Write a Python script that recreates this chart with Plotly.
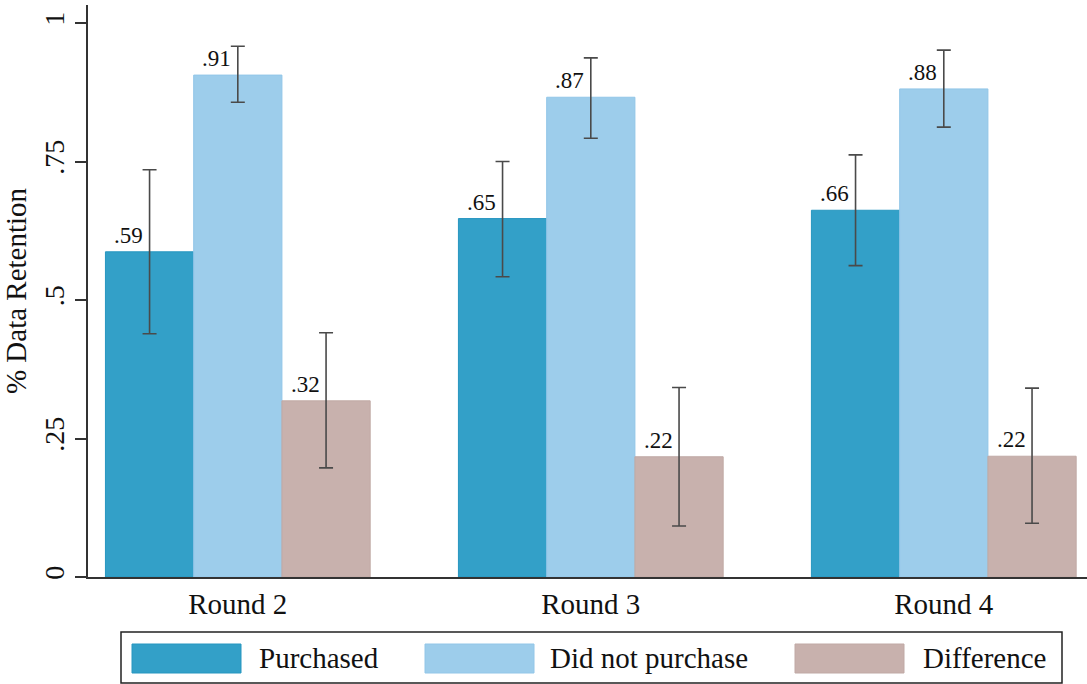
import plotly.graph_objects as go

rounds = ["Round 2", "Round 3", "Round 4"]
series_names = ["Purchased", "Did not purchase", "Difference"]
purchased = [0.587, 0.647, 0.662]
purchased_lo = [0.439, 0.542, 0.562]
purchased_hi = [0.735, 0.750, 0.762]
not_purchased = [0.906, 0.866, 0.881]
not_purchased_lo = [0.857, 0.792, 0.812]
not_purchased_hi = [0.958, 0.937, 0.951]
difference = [0.318, 0.217, 0.218]
difference_lo = [0.197, 0.092, 0.097]
difference_hi = [0.441, 0.342, 0.341]
y_tickvals = [0, 0.25, 0.5, 0.75, 1]
y_ticktext = ["0", ".25", ".5", ".75", "1"]

colors = ["#33A0C8", "#9DCDEB", "#C8B1AD"]
edges = ["#2796C0", "#92C6E8", "#C0A9A5"]
FONT = "Liberation Serif, Times New Roman, serif"

W, H = 1087, 684
ML, MR, MT, MB = 88, 0, 5, 107
pw, ph = W - ML - MR, H - MT - MB


def px_x(x):
    return (x - ML) / pw


def px_y(y):
    return (H - MB - y) / ph


fig = go.Figure()
data = [(purchased, purchased_lo, purchased_hi),
        (not_purchased, not_purchased_lo, not_purchased_hi),
        (difference, difference_lo, difference_hi)]
xs = list(range(len(rounds)))
for k, (vals, lo, hi) in enumerate(data):
    fig.add_trace(go.Bar(
        x=xs, y=vals, name=series_names[k],
        marker=dict(color=colors[k], line=dict(color=edges[k], width=1)),
        error_y=dict(type="data", symmetric=False,
                     array=[h - v for h, v in zip(hi, vals)],
                     arrayminus=[v - l for v, l in zip(vals, lo)],
                     color="#4a4a4a", thickness=1.6, width=7),
        showlegend=False,
    ))
    for i, v in enumerate(vals):
        fig.add_annotation(
            x=i + (k - 1) * 0.25, y=v, xref="x", yref="y",
            text=f"{v:.2f}".lstrip("0"), showarrow=False,
            xanchor="center", yanchor="bottom", xshift=-21, yshift=2,
            font=dict(family=FONT, size=23, color="#111"))

# custom legend box
fig.add_shape(type="rect", xref="paper", yref="paper",
              x0=px_x(121), x1=px_x(1062), y0=px_y(632), y1=px_y(683),
              line=dict(color="#222", width=1.5), fillcolor="white")
sw_left = [132, 425, 795]
txt_left = [257, 548, 921]
for k in range(3):
    fig.add_shape(type="rect", xref="paper", yref="paper",
                  x0=px_x(sw_left[k]), x1=px_x(sw_left[k] + 109),
                  y0=px_y(644), y1=px_y(673),
                  line=dict(color=edges[k], width=1), fillcolor=colors[k])
    fig.add_annotation(x=px_x(txt_left[k]), y=px_y(658), xref="paper", yref="paper",
                       text=series_names[k], showarrow=False,
                       xanchor="left", yanchor="middle",
                       font=dict(family=FONT, size=29, color="#111"))

fig.update_layout(
    width=W, height=H,
    margin=dict(l=ML, r=MR, t=MT, b=MB),
    paper_bgcolor="white", plot_bgcolor="white",
    barmode="group", bargap=0.25, bargroupgap=0,
    font=dict(family=FONT, size=28, color="#111"),
)
fig.update_xaxes(
    range=[-0.4244, 2.4057], tickmode="array", tickvals=xs, ticktext=rounds,
    showline=True, linecolor="#333", linewidth=1.5, ticks="", showgrid=False,
    zeroline=False, tickfont=dict(family=FONT, size=29, color="#111"),
)
fig.update_yaxes(
    range=[0, 1.0325], tickmode="array", tickvals=y_tickvals, ticktext=y_ticktext,
    tickangle=-90, ticks="outside", ticklen=11, tickwidth=1.5, tickcolor="#333",
    showline=True, linecolor="#333", linewidth=1.5, showgrid=False, zeroline=False,
    tickfont=dict(family=FONT, size=28, color="#111"),
    title=dict(text="% Data Retention", font=dict(family=FONT, size=29, color="#111"),
               standoff=6),
)

fig.write_html("out.html")
